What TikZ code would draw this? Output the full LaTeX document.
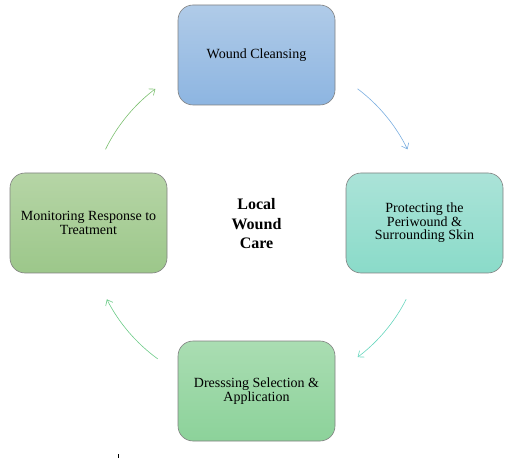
\documentclass[tikz,border=0pt]{standalone}
\usepackage{fontspec}
\setmainfont{Liberation Serif}
\usetikzlibrary{arrows.meta}
\definecolor{cleanT}{HTML}{B0CBE8}\definecolor{cleanB}{HTML}{8DB5E1}
\definecolor{periT}{HTML}{ABE3D8}\definecolor{periB}{HTML}{8ADBC9}
\definecolor{dressT}{HTML}{AADDB2}\definecolor{dressB}{HTML}{8CD29A}
\definecolor{monT}{HTML}{B6D5A6}\definecolor{monB}{HTML}{9CC78A}
\tikzset{
  stagebox/.style={draw=black!50, line width=.6pt, rounded corners=15pt,
    minimum width=157pt, minimum height=100pt, align=center,
    font=\fontsize{14}{13.5}\selectfont, inner sep=2pt},
  cyclearrow/.style={line width=.6pt, -{Straight Barb[length=5pt,width=8pt]}}
}
\begin{document}
\begin{tikzpicture}[x=1pt,y=1pt]
	\useasboundingbox (0,0) rectangle (508,458);

	\node[stagebox, top color=cleanT, bottom color=cleanB] (clean) at (256.5,403) {Wound Cleansing};
	\node[stagebox, top color=periT, bottom color=periB] (peri) at (424.5,235) {Protecting the\\Periwound \&\\Surrounding Skin};
	\node[stagebox, top color=dressT, bottom color=dressB] (dress) at (256.5,67) {Dresssing Selection \&\\Application};
	\node[stagebox, top color=monT, bottom color=monB] (mon) at (88.5,235) {Monitoring Response to\\Treatment};
	\node[align=center, font=\fontsize{16}{19.5}\selectfont\bfseries] (care) at (256.5,234) {Local\\Wound\\Care};

	% arc ends on a circle through the box centres
	\coordinate (a1) at ([shift={(53:168)}]256.5,235);
	\coordinate (a2) at ([shift={(-27:168)}]256.5,235);
	\coordinate (a3) at ([shift={(-126:168)}]256.5,235);
	\coordinate (a4) at ([shift={(154:168)}]256.5,235);
	\draw[cyclearrow, color={rgb,255:red,123;green,174;blue,224}] (a1) arc[start angle=53, end angle=26, radius=168];
	\draw[cyclearrow, color={rgb,255:red,104;green,214;blue,190}] (a2) arc[start angle=-27, end angle=-53, radius=168];
	\draw[cyclearrow, color={rgb,255:red,108;green,203;blue,136}] (a3) arc[start angle=-126, end angle=-153, radius=168];
	\draw[cyclearrow, color={rgb,255:red,124;green,192;blue,112}] (a4) arc[start angle=154, end angle=127, radius=168];

	\draw[black, line width=.5pt] (118,0) -- (118,4);
\end{tikzpicture}
\end{document}
